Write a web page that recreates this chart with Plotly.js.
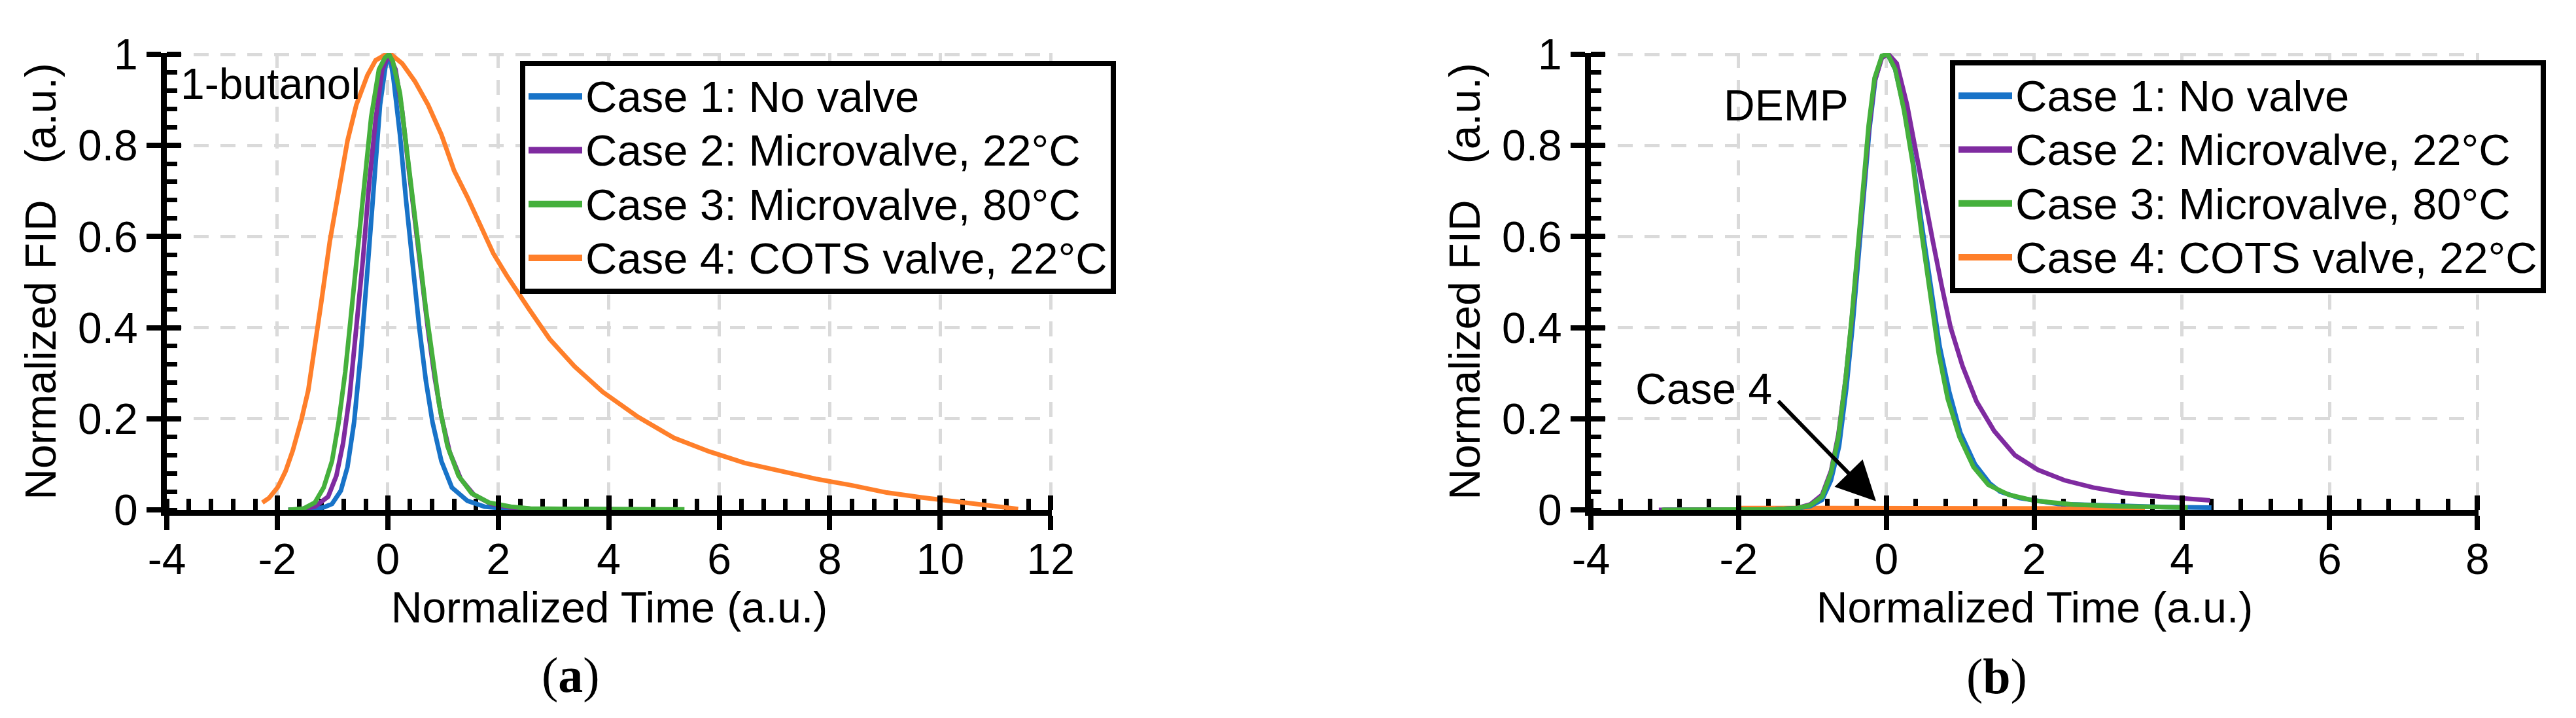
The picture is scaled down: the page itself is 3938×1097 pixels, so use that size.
<!DOCTYPE html>
<html>
<head>
<meta charset="utf-8">
<script src="https://cdn.plot.ly/plotly-3.0.1.min.js"></script>
<style>
  html, body { margin: 0; padding: 0; background: #fff; }
  #chart { width: 3938px; height: 1097px; }
</style>
</head>
<body>
<div id="chart"></div>
<script>
CHART = document.getElementById('chart');

// series names and colours
var caseNames = ['Case 1: No valve', 'Case 2: Microvalve, 22°C', 'Case 3: Microvalve, 80°C', 'Case 4: COTS valve, 22°C'];
var caseColors = ['#1873c8', '#7f2ba0', '#45b03c', '#ff7f2a'];

// tick labels (plain hyphen minus, as in the figure)
var aTickVals = [-4, -2, 0, 2, 4, 6, 8, 10, 12];
var aTickText = ['-4', '-2', '0', '2', '4', '6', '8', '10', '12'];
var bTickVals = [-4, -2, 0, 2, 4, 6, 8];
var bTickText = ['-4', '-2', '0', '2', '4', '6', '8'];

// (a) 1-butanol
var a1x = [-1.8, -1.5, -1.32, -1.15, -1.01, -0.85, -0.73, -0.61, -0.49, -0.37, -0.26, -0.14, -0.04, 0.03, 0.10, 0.22, 0.33, 0.45, 0.57, 0.69, 0.81, 0.97, 1.16, 1.44, 1.75, 2.23, 3.0, 4.0, 5.35];
var a1y = [0.0, 0.0, 0.002, 0.006, 0.013, 0.042, 0.094, 0.192, 0.342, 0.524, 0.713, 0.889, 0.975, 1.0, 0.95, 0.824, 0.68, 0.537, 0.4, 0.283, 0.192, 0.107, 0.049, 0.02, 0.007, 0.002, 0.001, 0.0, 0.0];

var a2x = [-1.8, -1.6, -1.32, -1.08, -0.93, -0.81, -0.69, -0.57, -0.45, -0.34, -0.22, -0.10, 0.02, 0.14, 0.26, 0.37, 0.49, 0.61, 0.73, 0.85, 0.97, 1.12, 1.32, 1.56, 1.87, 2.23, 2.58, 3.2, 4.2, 5.35];
var a2y = [0.0, 0.001, 0.007, 0.029, 0.075, 0.146, 0.251, 0.394, 0.55, 0.713, 0.857, 0.967, 1.0, 0.967, 0.876, 0.758, 0.635, 0.511, 0.394, 0.29, 0.205, 0.127, 0.068, 0.033, 0.013, 0.005, 0.002, 0.001, 0.0, 0.0];

var a3x = [-1.8, -1.52, -1.32, -1.16, -1.01, -0.89, -0.77, -0.65, -0.53, -0.41, -0.30, -0.16, -0.05, 0.02, 0.09, 0.22, 0.33, 0.45, 0.57, 0.69, 0.81, 0.93, 1.08, 1.28, 1.52, 1.83, 2.23, 2.58, 3.2, 4.2, 5.37];
var a3y = [0.0, 0.003, 0.016, 0.049, 0.107, 0.192, 0.303, 0.446, 0.589, 0.732, 0.863, 0.967, 0.993, 1.0, 0.985, 0.915, 0.81, 0.693, 0.563, 0.44, 0.329, 0.231, 0.14, 0.075, 0.036, 0.016, 0.007, 0.003, 0.002, 0.001, 0.001];

var a4x = [-2.27, -2.15, -1.99, -1.85, -1.72, -1.56, -1.44, -1.32, -1.20, -1.05, -0.89, -0.73, -0.57, -0.37, -0.22, -0.06, 0.06, 0.26, 0.49, 0.73, 0.97, 1.20, 1.44, 1.68, 1.91, 2.15, 2.39, 2.56, 2.93, 3.38, 3.89, 4.53, 5.18, 5.82, 6.46, 7.11, 7.75, 8.39, 9.03, 9.68, 10.32, 10.96, 11.41];
var a4y = [0.016, 0.026, 0.05, 0.085, 0.13, 0.2, 0.262, 0.355, 0.459, 0.589, 0.706, 0.81, 0.889, 0.954, 0.987, 0.998, 1.0, 0.98, 0.941, 0.889, 0.824, 0.745, 0.687, 0.622, 0.563, 0.515, 0.47, 0.44, 0.375, 0.315, 0.259, 0.204, 0.158, 0.128, 0.103, 0.085, 0.068, 0.054, 0.038, 0.027, 0.018, 0.009, 0.002];

// (b) DEMP
var b1x = [-3.02, -2.5, -2.0, -1.5, -1.2, -1.03, -0.87, -0.75, -0.64, -0.54, -0.46, -0.38, -0.31, -0.23, -0.15, -0.06, 0.02, 0.12, 0.24, 0.36, 0.48, 0.60, 0.72, 0.85, 1.0, 1.2, 1.4, 1.54, 1.8, 2.33, 3.12, 3.8, 4.4];
var b1y = [0.0, 0.0, 0.0, 0.001, 0.004, 0.008, 0.022, 0.065, 0.14, 0.27, 0.40, 0.545, 0.70, 0.835, 0.945, 0.996, 1.0, 0.967, 0.88, 0.765, 0.625, 0.49, 0.36, 0.26, 0.17, 0.10, 0.058, 0.04, 0.026, 0.013, 0.008, 0.006, 0.005];

var b2x = [-3.08, -2.5, -2.0, -1.5, -1.2, -1.03, -0.87, -0.75, -0.65, -0.55, -0.47, -0.39, -0.32, -0.24, -0.16, -0.06, 0.03, 0.14, 0.28, 0.39, 0.51, 0.63, 0.75, 0.87, 1.03, 1.22, 1.46, 1.74, 2.05, 2.41, 2.80, 3.23, 3.71, 4.38];
var b2y = [0.0, 0.0, 0.0, 0.001, 0.004, 0.012, 0.033, 0.085, 0.165, 0.29, 0.415, 0.555, 0.70, 0.83, 0.94, 0.993, 1.0, 0.98, 0.889, 0.792, 0.693, 0.589, 0.491, 0.40, 0.316, 0.238, 0.173, 0.12, 0.088, 0.065, 0.049, 0.037, 0.029, 0.021];

var b3x = [-3.04, -2.5, -2.0, -1.5, -1.2, -1.03, -0.87, -0.75, -0.65, -0.55, -0.47, -0.39, -0.32, -0.24, -0.16, -0.06, 0.02, 0.12, 0.24, 0.36, 0.47, 0.59, 0.71, 0.83, 0.99, 1.18, 1.38, 1.66, 2.01, 2.52, 3.12, 4.08];
var b3y = [0.0, 0.0, 0.0, 0.001, 0.004, 0.01, 0.029, 0.081, 0.16, 0.29, 0.42, 0.563, 0.713, 0.844, 0.948, 0.997, 1.0, 0.967, 0.876, 0.758, 0.615, 0.472, 0.342, 0.244, 0.16, 0.094, 0.055, 0.033, 0.02, 0.012, 0.008, 0.005];

var b4x = [-2.0, -1.0, 0.0, 1.0, 2.0, 3.0, 3.5];
var b4y = [0.004, 0.004, 0.005, 0.005, 0.004, 0.004, 0.003];

var font = 'Liberation Sans, Arial, sans-serif';
var lineW = 7;

function curve(x, y, i, xa, ya) {
    return {
        x: x, y: y, xaxis: xa, yaxis: ya,
        type: 'scatter', mode: 'lines',
        line: { color: caseColors[i], width: lineW },
        showlegend: false, hoverinfo: 'skip'
    };
}

// legend-only entries (thicker sample lines, text a bit larger than the row pitch)
function key(i, xa, ya, lg) {
    return {
        x: [null], y: [null], xaxis: xa, yaxis: ya,
        type: 'scatter', mode: 'lines',
        name: '<span style="font-size:67px">' + caseNames[i] + '</span>',
        line: { color: caseColors[i], width: 16 },
        legend: lg, showlegend: true
    };
}

var data = [
    curve(a4x, a4y, 3, 'x', 'y'),
    curve(a1x, a1y, 0, 'x', 'y'),
    curve(a2x, a2y, 1, 'x', 'y'),
    curve(a3x, a3y, 2, 'x', 'y'),
    curve(b4x, b4y, 3, 'x2', 'y2'),
    curve(b1x, b1y, 0, 'x2', 'y2'),
    curve(b2x, b2y, 1, 'x2', 'y2'),
    curve(b3x, b3y, 2, 'x2', 'y2'),
    key(0, 'x', 'y', 'legend'), key(1, 'x', 'y', 'legend'), key(2, 'x', 'y', 'legend'), key(3, 'x', 'y', 'legend'),
    key(0, 'x2', 'y2', 'legend2'), key(1, 'x2', 'y2', 'legend2'), key(2, 'x2', 'y2', 'legend2'), key(3, 'x2', 'y2', 'legend2'),
    { x: [], y: [], xaxis: 'x3', yaxis: 'y3', showlegend: false },
    { x: [], y: [], xaxis: 'x4', yaxis: 'y4', showlegend: false }
];

var W = 3938, H = 1097;
var yDom = [1 - 779 / H, 1 - 81 / H];
var yRange = [0, 1.003];

function xAxis(range, dom, vals, txt, title) {
    return {
        domain: dom, range: range, tickmode: 'array', tickvals: vals, ticktext: txt,
        ticks: 'outside', ticklen: 22, tickwidth: 8, tickcolor: '#000',
        showline: true, linewidth: 9, linecolor: '#000',
        showgrid: true, gridcolor: '#dadada', gridwidth: 5, griddash: '23px,18px',
        zeroline: false, layer: 'below traces',
        minor: { dtick: 0.4, tick0: -4, ticks: 'inside', ticklen: 17, tickwidth: 7, tickcolor: '#000', showgrid: false },
        tickfont: { family: font, size: 66, color: '#000' }, ticklabelstandoff: -12,
        title: { text: title, font: { family: font, size: 66, color: '#000' }, standoff: 8 }
    };
}

function yAxis(anchor) {
    return {
        domain: yDom, range: yRange, anchor: anchor, tickmode: 'linear', tick0: 0, dtick: 0.2,
        ticks: 'outside', ticklen: 22, tickwidth: 8, tickcolor: '#000',
        showline: true, linewidth: 9, linecolor: '#000',
        showgrid: true, gridcolor: '#dadada', gridwidth: 5, griddash: '23px,18px',
        zeroline: false, layer: 'below traces',
        minor: { dtick: 0.04, ticks: 'inside', ticklen: 16, tickwidth: 7, tickcolor: '#000', showgrid: false },
        tickfont: { family: font, size: 66, color: '#000' },
        title: { text: 'Normalized FID\u00a0\u00a0\u00a0(a.u.)', font: { family: font, size: 66, color: '#000' }, standoff: 15 }
    };
}

// overlay axes: inner half of the major ticks
function xInner(range, overl, anchor) {
    return {
        overlaying: overl, anchor: anchor, side: 'bottom', range: range,
        tickmode: 'linear', tick0: -4, dtick: 2,
        ticks: 'inside', ticklen: 22, tickwidth: 8, tickcolor: '#000',
        showticklabels: false, showgrid: false, showline: false, zeroline: false
    };
}
function yInner(overl, anchor) {
    return {
        overlaying: overl, anchor: anchor, side: 'left', range: yRange,
        tickmode: 'linear', tick0: 0, dtick: 0.2,
        ticks: 'inside', ticklen: 22, tickwidth: 8, tickcolor: '#000',
        showticklabels: false, showgrid: false, showline: false, zeroline: false
    };
}

var aRange = [-4, 12.02], bRange = [-4, 8.015];
var aDom = [255 / W, 1608 / W], bDom = [2432 / W, 3789 / W];

var legendBase = {
    xanchor: 'left', yanchor: 'top',
    bgcolor: '#fff', bordercolor: '#000', borderwidth: 8,
    font: { family: font, size: 61, color: '#000' },
    itemwidth: 82, tracegroupgap: 0
};

var layout = {
    width: W, height: H,
    margin: { l: 0, r: 0, t: 0, b: 0 },
    paper_bgcolor: '#fff', plot_bgcolor: '#fff',
    showlegend: true,
    xaxis: xAxis(aRange, aDom, aTickVals, aTickText, 'Normalized Time (a.u.)'),
    yaxis: yAxis('x'),
    xaxis2: Object.assign(xAxis(bRange, bDom, bTickVals, bTickText, 'Normalized Time (a.u.)'), { anchor: 'y2' }),
    yaxis2: yAxis('x2'),
    xaxis3: xInner(aRange, 'x', 'y'),
    yaxis3: yInner('y', 'x'),
    xaxis4: xInner(bRange, 'x2', 'y2'),
    yaxis4: yInner('y2', 'x2'),
    legend: Object.assign({ x: 795 / W, y: 1 - 93 / H }, legendBase),
    legend2: Object.assign({ x: 2981 / W, y: 1 - 92 / H }, legendBase),
    annotations: [
        { xref: 'x', yref: 'y', x: -3.78, y: 0.935, xanchor: 'left', yanchor: 'middle', showarrow: false,
          text: '1-butanol', font: { family: font, size: 66, color: '#000' } },
        { xref: 'x2', yref: 'y2', x: -2.22, y: 0.888, xanchor: 'left', yanchor: 'middle', showarrow: false,
          text: 'DEMP', font: { family: font, size: 66, color: '#000' } },
        { xref: 'x2', yref: 'y2', x: -3.42, y: 0.266, xanchor: 'left', yanchor: 'middle', showarrow: false,
          text: 'Case 4', font: { family: font, size: 66, color: '#000' } },
        { xref: 'x2', yref: 'y2', x: -0.14, y: 0.019, axref: 'x2', ayref: 'y2', ax: -1.49, ay: 0.243,
          text: ' ', showarrow: true, arrowhead: 2, arrowsize: 2, arrowwidth: 6, arrowcolor: '#000', standoff: 0 },
        { xref: 'paper', yref: 'paper', x: 872 / W, y: 1 - 1031 / H, xanchor: 'center', yanchor: 'middle', showarrow: false,
          text: '(<b>a</b>)', font: { family: 'Liberation Serif, Times New Roman, serif', size: 76, color: '#000' } },
        { xref: 'paper', yref: 'paper', x: 3052 / W, y: 1 - 1033 / H, xanchor: 'center', yanchor: 'middle', showarrow: false,
          text: '(<b>b</b>)', font: { family: 'Liberation Serif, Times New Roman, serif', size: 76, color: '#000' } }
    ]
};

var config = { responsive: false, staticPlot: true };
Plotly.newPlot(CHART, data, layout, config);
</script>
</body>
</html>
